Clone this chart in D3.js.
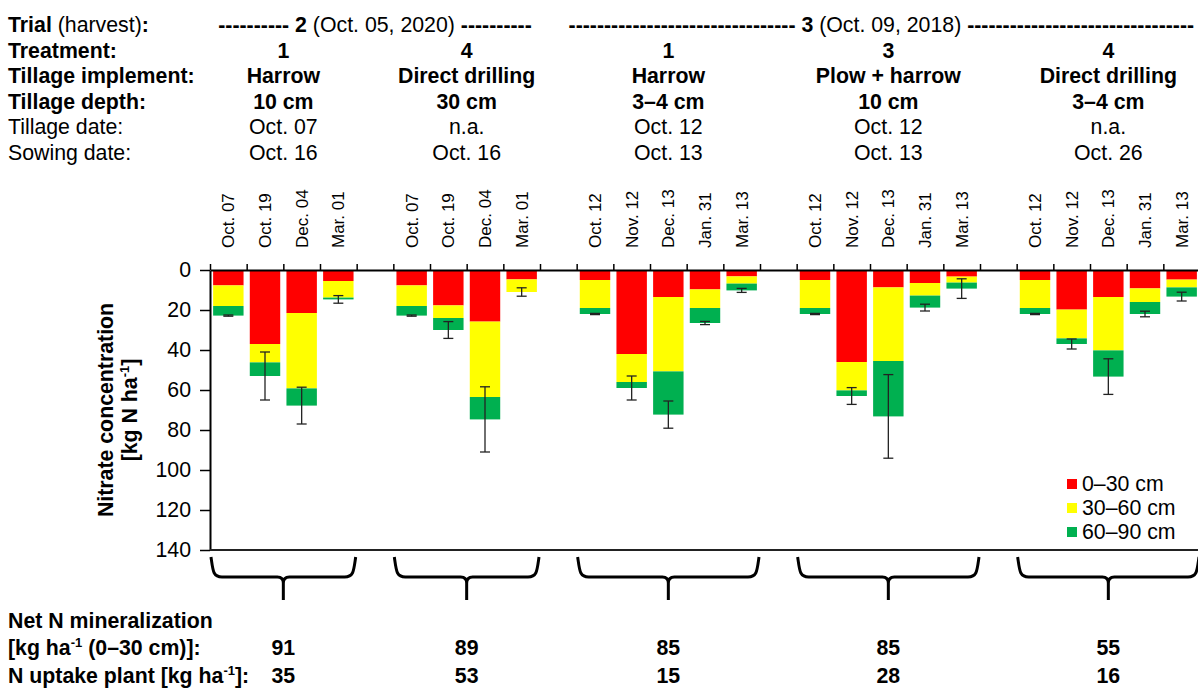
<!DOCTYPE html>
<html>
<head>
<meta charset="utf-8">
<script src="https://cdn.jsdelivr.net/npm/d3@7"></script>
<style>
  body { margin: 0; background: #fff; }
  svg { font-family: "Liberation Sans", Arial, sans-serif; }
  .bold { font-weight: bold; }
</style>
</head>
<body>
<div id="chart"></div>
<script>
// header rows, one entry per treatment group
const trialNames = ["2", "3"];
const trialDates = ["(Oct. 05, 2020)", "(Oct. 09, 2018)"];
const trialGroups = [[0, 1], [2, 3, 4]];
const trialDashesLeft = [10, 32];
const trialDashesRight = [10, 32];

const treatments = ["1", "4", "1", "3", "4"];
const implementsUsed = ["Harrow", "Direct drilling", "Harrow", "Plow + harrow", "Direct drilling"];
const depths = ["10 cm", "30 cm", "3–4 cm", "10 cm", "3–4 cm"];
const tillageDates = ["Oct. 07", "n.a.", "Oct. 12", "Oct. 12", "n.a."];
const sowingDates = ["Oct. 16", "Oct. 16", "Oct. 13", "Oct. 13", "Oct. 26"];

// sampling dates (x tick labels)
const samplingDates = [
    ["Oct. 07", "Oct. 19", "Dec. 04", "Mar. 01"],
    ["Oct. 07", "Oct. 19", "Dec. 04", "Mar. 01"],
    ["Oct. 12", "Nov. 12", "Dec. 13", "Jan. 31", "Mar. 13"],
    ["Oct. 12", "Nov. 12", "Dec. 13", "Jan. 31", "Mar. 13"],
    ["Oct. 12", "Nov. 12", "Dec. 13", "Jan. 31", "Mar. 13"]
];

// nitrate per soil layer [kg N/ha]
const layer0to30 = [
    [7.7, 37, 21.5, 5.5],
    [7.7, 17.7, 25.8, 4.7],
    [5, 42, 13.5, 9.7, 3.2],
    [5, 46, 8.7, 6.5, 3.3],
    [5, 19.8, 13.5, 9.2, 4.8]
];
const layer30to60 = [
    [10.3, 9.2, 37.7, 8.3],
    [10.3, 6.3, 37.7, 6.3],
    [14, 14, 37.2, 9.3, 3.6],
    [14, 14.2, 36.8, 6.3, 3],
    [14, 14.4, 26.7, 6.8, 3.9]
];
const layer60to90 = [
    [4.8, 6.8, 8.6, 0.9],
    [4.8, 6, 11.2, 0],
    [3, 3, 21.6, 7.5, 3.4],
    [3, 2.8, 27.7, 6, 3],
    [3, 2.8, 13.1, 6, 4.6]
];
// error of the total (0-90 cm)
const totalError = [
    [0.3, 12, 9.2, 1.9],
    [0.3, 4.2, 16.3, 2.1],
    [0.3, 6, 6.8, 0.8, 1],
    [0.3, 4.2, 20.9, 1.7, 4.9],
    [0.3, 2.5, 8.9, 1.4, 2.2]
];

const netMineralization = ["91", "89", "85", "85", "55"];
const nUptake = ["35", "53", "15", "28", "16"];

const layerNames = ["0–30 cm", "30–60 cm", "60–90 cm"];
const layerColors = ["#ff0000", "#ffff00", "#00b050"];

const width = 1198, height = 689;
const plot = {left: 210, right: 1200, top: 270, bottom: 550};
const big = 21.3, small = 17;
const trialShift = [0, -7];

// flat rows for the bars
let rows = [];
let keys = [];
samplingDates.forEach((dates, g) => {
    if (g > 0) keys.push("gap" + g);
    dates.forEach((d, i) => {
        const key = g + "-" + i;
        keys.push(key);
        rows.push({key, g, date: d, a: layer0to30[g][i], b: layer30to60[g][i], c: layer60to90[g][i], err: totalError[g][i]});
    });
});

const x = d3.scaleBand().domain(keys).range([plot.left, plot.right]).paddingInner(0);
const y = d3.scaleLinear().domain([0, 140]).range([plot.top, plot.bottom]);
const bw = x.bandwidth();
const barW = bw * 0.83;

function groupExtent(g) {
    return [x(g + "-0"), x(g + "-" + (samplingDates[g].length - 1)) + bw];
}
function groupCenter(g) {
    const e = groupExtent(g);
    return (e[0] + e[1]) / 2;
}

// text with a "-1" superscript in it
function supText(sel, before, after) {
    sel.append("tspan").text(before);
    sel.append("tspan").attr("dy", -8).style("font-size", "13px").text("-1");
    sel.append("tspan").attr("dy", 8).text(after);
}

const svg = d3.select("#chart").append("svg")
    .attr("width", width)
    .attr("height", height);

// ---- header block
const headRows = [
    {label: "Treatment:", bold: true, vals: treatments},
    {label: "Tillage implement:", bold: true, vals: implementsUsed},
    {label: "Tillage depth:", bold: true, vals: depths},
    {label: "Tillage date:", bold: false, vals: tillageDates},
    {label: "Sowing date:", bold: false, vals: sowingDates}
];
const rowY = d3.scaleLinear().domain([0, 5]).range([32, 159.5]);

const trialLabel = svg.append("text").attr("x", 8).attr("y", rowY(0)).style("font-size", big + "px");
trialLabel.append("tspan").attr("class", "bold").text("Trial");
trialLabel.append("tspan").text(" (harvest)");
trialLabel.append("tspan").attr("class", "bold").text(":");

trialNames.forEach((t, i) => {
    const gs = trialGroups[i];
    const cx = (groupExtent(gs[0])[0] + groupExtent(gs[gs.length - 1])[1]) / 2 + trialShift[i];
    const tt = svg.append("text").attr("x", cx).attr("y", rowY(0))
        .attr("text-anchor", "middle").style("font-size", big + "px");
    tt.append("tspan").attr("class", "bold").text("-".repeat(trialDashesLeft[i]) + " " + t);
    tt.append("tspan").text(" " + trialDates[i] + " ");
    tt.append("tspan").attr("class", "bold").text("-".repeat(trialDashesRight[i]));
});

headRows.forEach((r, i) => {
    svg.append("text")
        .attr("x", 8).attr("y", rowY(i + 1))
        .attr("class", r.bold ? "bold" : null)
        .style("font-size", big + "px")
        .text(r.label);
    svg.selectAll(null).data(r.vals).enter().append("text")
        .attr("x", (d, g) => groupCenter(g))
        .attr("y", rowY(i + 1))
        .attr("text-anchor", "middle")
        .attr("class", r.bold ? "bold" : null)
        .style("font-size", big + "px")
        .text(d => d);
});

// ---- date labels (rotated)
svg.selectAll("text.date").data(rows).enter().append("text")
    .attr("class", "date")
    .attr("transform", d => `translate(${x(d.key) + bw / 2},248) rotate(-90)`)
    .attr("dy", "0.35em")
    .style("font-size", small + "px")
    .text(d => d.date);

// ---- stacked bars
const stack = d3.stack().keys(["a", "b", "c"]);
const series = stack(rows);

svg.append("g").selectAll("g").data(series).enter().append("g")
    .attr("fill", (d, i) => layerColors[i])
    .selectAll("rect").data(d => d).enter().append("rect")
    .attr("x", d => x(d.data.key) + (bw - barW) / 2)
    .attr("y", d => y(d[0]))
    .attr("width", barW)
    .attr("height", d => y(d[1]) - y(d[0]));

// ---- error bars on the total
const eb = svg.append("g").attr("stroke", "#222").attr("stroke-width", 1.3);
rows.forEach(d => {
    const total = d.a + d.b + d.c;
    const cx = x(d.key) + bw / 2;
    const y0 = y(total - d.err), y1 = y(total + d.err);
    eb.append("line").attr("x1", cx).attr("x2", cx).attr("y1", y0).attr("y2", y1);
    eb.append("line").attr("x1", cx - 5).attr("x2", cx + 5).attr("y1", y0).attr("y2", y0);
    eb.append("line").attr("x1", cx - 5).attr("x2", cx + 5).attr("y1", y1).attr("y2", y1);
});

// ---- axes
const yAxis = svg.append("g")
    .attr("transform", `translate(${plot.left},0)`)
    .call(d3.axisLeft(y).tickValues(d3.range(0, 141, 20)).tickSize(10).tickSizeOuter(0).tickPadding(9));
yAxis.selectAll("text").style("font-size", big + "px").attr("fill", "#000");
yAxis.selectAll("line").attr("stroke", "#000").attr("stroke-width", 1.5);
yAxis.select(".domain").attr("stroke", "#000").attr("stroke-width", 2);

const bounds = keys.map(k => x(k)).concat([plot.right]);
const topAxis = svg.append("g")
    .attr("transform", `translate(0,${plot.top})`)
    .call(d3.axisTop(d3.scaleLinear().domain([plot.left, plot.right]).range([plot.left, plot.right]))
        .tickValues(bounds).tickSize(6).tickSizeOuter(0).tickFormat(""));
topAxis.selectAll("line").attr("stroke", "#000").attr("stroke-width", 1.5);
topAxis.select(".domain").attr("stroke", "#000").attr("stroke-width", 2);

svg.append("line")
    .attr("x1", plot.left).attr("x2", plot.right)
    .attr("y1", plot.bottom).attr("y2", plot.bottom)
    .attr("stroke", "#222").attr("stroke-width", 2);

// y axis title
const yt = svg.append("text")
    .attr("transform", `translate(113,${(plot.top + plot.bottom) / 2}) rotate(-90)`)
    .attr("text-anchor", "middle")
    .attr("class", "bold")
    .style("font-size", big + "px");
yt.append("tspan").attr("x", 0).attr("y", 0).text("Nitrate concentration");
supText(yt.append("tspan").attr("x", 0).attr("y", 24), "[kg N ha", "]");

// ---- legend
const legend = svg.append("g").attr("transform", "translate(1067,484)");
layerNames.forEach((name, i) => {
    legend.append("rect").attr("x", 0).attr("y", i * 24 - 5).attr("width", 10).attr("height", 10)
        .attr("fill", layerColors[i]);
    legend.append("text").attr("x", 15).attr("y", i * 24).attr("dy", "0.35em")
        .style("font-size", big + "px").text(name);
});

// ---- braces
const braceTop = 557, braceMid = 577, braceTip = 600;
const braces = svg.append("g").attr("fill", "none").attr("stroke", "#000").attr("stroke-width", 3);
samplingDates.forEach((dates, g) => {
    const [x0, x1] = groupExtent(g);
    const cx = groupCenter(g);
    const path = d3.path();
    path.moveTo(x0 + 1, braceTop);
    path.bezierCurveTo(x0 + 3, braceMid - 6, x0 + 3, braceMid, x0 + 12, braceMid);
    path.lineTo(cx - 6, braceMid);
    path.quadraticCurveTo(cx, braceMid, cx, braceMid + 6);
    path.lineTo(cx, braceTip);
    path.moveTo(cx, braceMid + 6);
    path.quadraticCurveTo(cx, braceMid, cx + 6, braceMid);
    path.lineTo(x1 - 12, braceMid);
    path.bezierCurveTo(x1 - 3, braceMid, x1 - 3, braceMid - 6, x1 - 1, braceTop);
    braces.append("path").attr("d", path.toString());
});

// ---- bottom table
const bot = svg.append("g").attr("class", "bold").style("font-size", big + "px");
bot.append("text").attr("x", 8).attr("y", 628).text("Net N mineralization");
supText(bot.append("text").attr("x", 8).attr("y", 655), "[kg ha", " (0–30 cm)]:");
supText(bot.append("text").attr("x", 8).attr("y", 683), "N uptake plant [kg ha", "]:");

bot.selectAll(null).data(netMineralization).enter().append("text")
    .attr("x", (d, g) => groupCenter(g)).attr("y", 655)
    .attr("text-anchor", "middle").text(d => d);
bot.selectAll(null).data(nUptake).enter().append("text")
    .attr("x", (d, g) => groupCenter(g)).attr("y", 683)
    .attr("text-anchor", "middle").text(d => d);
</script>
</body>
</html>
